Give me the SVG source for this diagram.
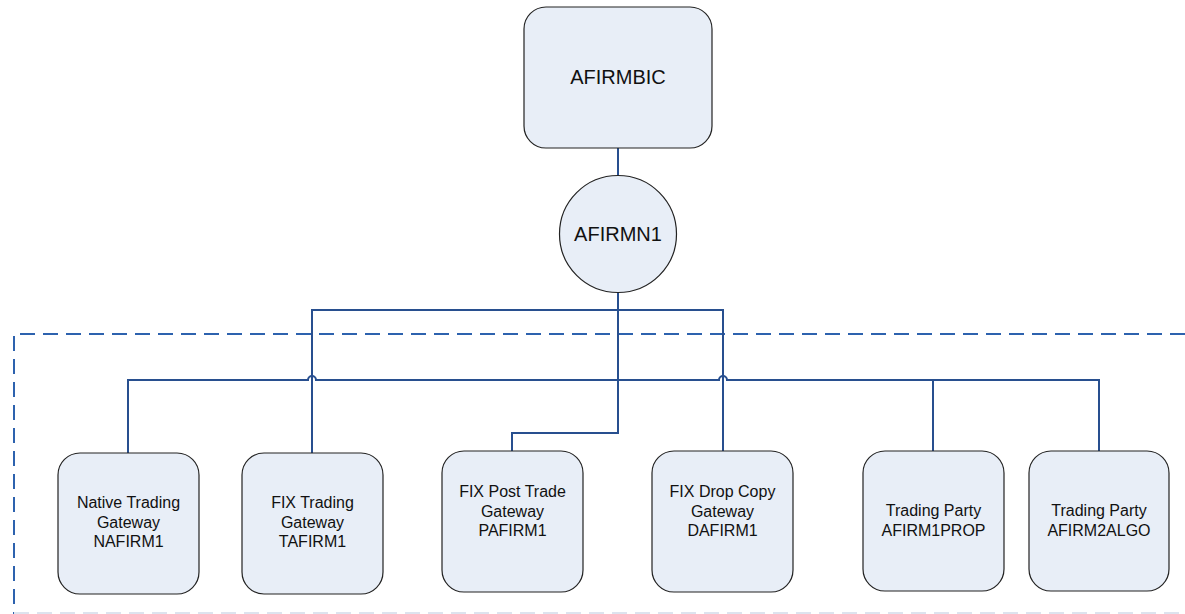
<svg xmlns="http://www.w3.org/2000/svg" width="1185" height="614" viewBox="0 0 1185 614">
<style>
.node{fill:#E8EEF7;stroke:#222;stroke-width:1.2}
.conn{fill:none;stroke:#284F8F;stroke-width:2}
.t{font-family:"Liberation Sans",Arial,sans-serif;font-size:16px;fill:#111;text-anchor:middle}
.big{font-size:20px}
.dash{fill:none;stroke:#2D62AE;stroke-width:2;stroke-dasharray:15 8}
</style>
<rect x="0" y="0" width="1185" height="614" fill="#fff"/>
<path class="dash" d="M1185,334 H14 V614"/>
<path d="M14,613 H1185" fill="none" stroke="#DDE3EE" stroke-width="2" stroke-dasharray="15 8"/>
<g id="connectors">
<path class="conn" d="M618,148 V176"/>
<path class="conn" d="M618,293 V433 H512 V451"/>
<path class="conn" d="M312,453 V310 H723 V451"/>
<path class="conn" d="M128,453 V380 H308 A4,4 0 0 1 316,380 H719 A4,4 0 0 1 727,380 H1099 V451"/>
<path class="conn" d="M933,380 V451"/>
</g>
<g id="afirmbic">
<rect class="node" x="524" y="7" width="188" height="141" rx="22"/>
<text class="t big" x="618" y="84">AFIRMBIC</text>
</g>
<g id="afirmn1">
<circle class="node" cx="618" cy="234" r="58.5"/>
<text class="t big" x="618" y="241">AFIRMN1</text>
</g>
<g id="nafirm1">
<rect class="node" x="58" y="453" width="141" height="141" rx="22"/>
<text class="t" x="128.5" y="508">Native Trading</text>
<text class="t" x="128.5" y="528">Gateway</text>
<text class="t" x="128.5" y="547">NAFIRM1</text>
</g>
<g id="tafirm1">
<rect class="node" x="242" y="453" width="141" height="141" rx="22"/>
<text class="t" x="312.5" y="508">FIX Trading</text>
<text class="t" x="312.5" y="528">Gateway</text>
<text class="t" x="312.5" y="547">TAFIRM1</text>
</g>
<g id="pafirm1">
<rect class="node" x="442" y="451" width="141" height="141" rx="22"/>
<text class="t" x="512.5" y="497">FIX Post Trade</text>
<text class="t" x="512.5" y="517">Gateway</text>
<text class="t" x="512.5" y="536">PAFIRM1</text>
</g>
<g id="dafirm1">
<rect class="node" x="652" y="451" width="141" height="141" rx="22"/>
<text class="t" x="722.5" y="497">FIX Drop Copy</text>
<text class="t" x="722.5" y="517">Gateway</text>
<text class="t" x="722.5" y="536">DAFIRM1</text>
</g>
<g id="afirm1prop">
<rect class="node" x="863" y="451" width="141" height="140" rx="22"/>
<text class="t" x="933.5" y="516">Trading Party</text>
<text class="t" x="933.5" y="536">AFIRM1PROP</text>
</g>
<g id="afirm2algo">
<rect class="node" x="1029" y="451" width="140" height="140" rx="22"/>
<text class="t" x="1099" y="516">Trading Party</text>
<text class="t" x="1099" y="536">AFIRM2ALGO</text>
</g>
</svg>
